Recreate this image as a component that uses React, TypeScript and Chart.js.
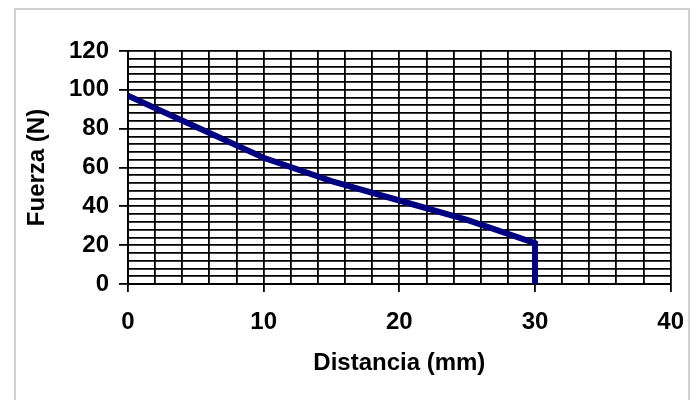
import React, { useEffect, useRef } from "react";
import { Chart, registerables } from "chart.js";

Chart.register(...registerables);

const distancia: number[] = [0, 5, 10, 15, 20, 25, 30, 30];
const fuerza: number[] = [97, 81, 65, 53, 43, 33, 21, 0];
const xTitle = "Distancia (mm)";
const yTitle = "Fuerza (N)";

export default function App() {
  const ref = useRef<HTMLCanvasElement | null>(null);

  useEffect(() => {
    if (!ref.current) return;
    const font = { family: "'Liberation Sans', Arial, sans-serif", size: 24, weight: "bold" as const };
    const chart = new Chart(ref.current, {
      type: "scatter",
      data: {
        datasets: [
          {
            data: distancia.map((x, i) => ({ x, y: fuerza[i] })),
            showLine: true,
            borderColor: "#000080",
            backgroundColor: "#000080",
            borderWidth: 6,
            pointRadius: 0,
            tension: 0,
          },
        ],
      },
      options: {
        responsive: false,
        animation: false,
        devicePixelRatio: 1,
        layout: { padding: { left: 15, top: 51, right: 29, bottom: 0 } },
        plugins: { legend: { display: false }, tooltip: { enabled: false } },
        scales: {
          x: {
            type: "linear",
            min: 0,
            max: 40,
            afterFit: (s: any) => {
              s.height = 116;
            },
            ticks: {
              stepSize: 2,
              autoSkip: false,
              maxRotation: 0,
              padding: 16,
              color: "#000",
              font,
              callback: (v: any) => (Number(v) % 10 === 0 ? String(v) : ""),
            },
            grid: {
              color: "#000",
              lineWidth: 1.8,
              tickLength: 8,
              tickColor: (c: any) => (c.tick && c.tick.value % 10 === 0 ? "#000" : "rgba(0,0,0,0)"),
            },
            border: { color: "#000", width: 2 },
            title: {
              display: true,
              text: xTitle,
              color: "#000",
              font,
              padding: { top: 0, bottom: 22 },
            },
          },
          y: {
            type: "linear",
            min: 0,
            max: 120,
            afterFit: (s: any) => {
              s.width = 113;
            },
            ticks: {
              stepSize: 4,
              autoSkip: false,
              padding: 10,
              color: "#000",
              font,
              callback: (v: any) => (Number(v) % 20 === 0 ? String(v) : ""),
            },
            grid: {
              color: "#000",
              lineWidth: 1.8,
              tickLength: 9,
              tickColor: (c: any) => (c.tick && c.tick.value % 20 === 0 ? "#000" : "rgba(0,0,0,0)"),
            },
            border: { color: "#000", width: 2 },
            title: {
              display: true,
              text: yTitle,
              color: "#000",
              font,
              padding: { top: 8, bottom: 0 },
            },
          },
        },
      },
    });
    return () => chart.destroy();
  }, []);

  return (
    <div style={{ position: "fixed", left: 0, top: 0, width: 700, height: 400, background: "#fff", overflow: "hidden" }}>
      <div
        style={{
          position: "absolute",
          left: 14,
          top: 8,
          width: 676,
          height: 400,
          border: "2px solid #d0d0d0",
          boxSizing: "border-box",
        }}
      />
      <canvas ref={ref} width={700} height={400} style={{ position: "absolute", left: 0, top: 0 }} />
    </div>
  );
}
